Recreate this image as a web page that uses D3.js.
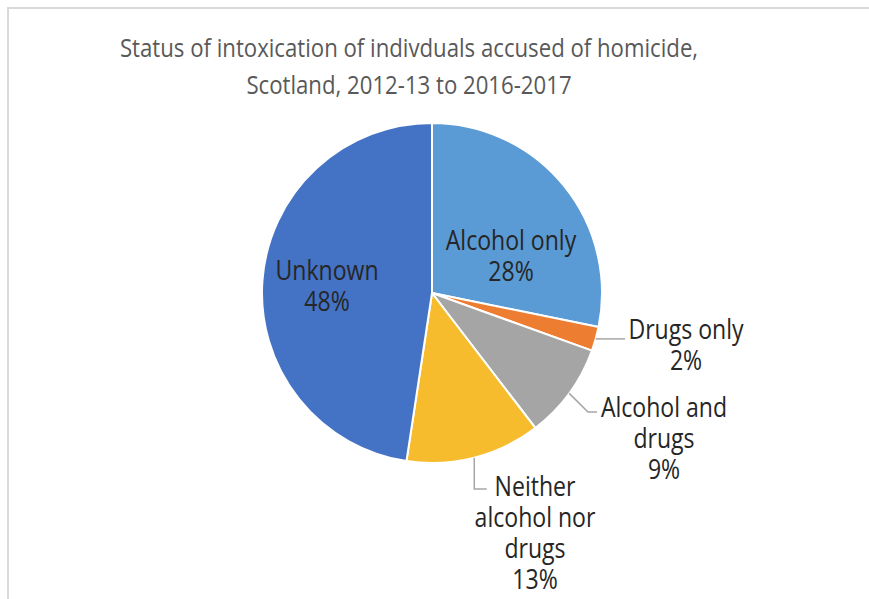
<!DOCTYPE html>
<html>
<head>
<meta charset="utf-8">
<script src="https://cdn.jsdelivr.net/npm/d3@7"></script>
<style>
  html, body { margin: 0; padding: 0; background: #fff; }
  svg { display: block; }
</style>
</head>
<body>
<svg id="chart" width="869" height="599"></svg>
<script>
// ---- data ----
const categories = ["Alcohol only", "Drugs only", "Alcohol and drugs", "Neither alcohol nor drugs", "Unknown"];
const values = [28.2, 2.3, 9.1, 12.8, 47.6];
const colors = ["#5b9bd5", "#ed7d31", "#a5a5a5", "#f6bc2d", "#4472c4"];
const labelLines = [["Alcohol only"], ["Drugs only"], ["Alcohol and", "drugs"], ["Neither", "alcohol nor", "drugs"], ["Unknown"]];
const titleLines = ["Status of intoxication of indivduals accused of homicide,", "Scotland, 2012-13 to 2016-2017"];

// ---- layout ----
const W = 869, H = 599;
const cx = 432, cy = 293, R = 170;
const FONT = "'Open Sans', 'Noto Sans', sans-serif";
// label anchor (centre of first line) relative to pie centre, and leader elbows
const labelLayout = [
  { dx: 79, dy: -52, inside: true },
  { dx: 254, dy: 37, elbow: null, end: [193, 46] },
  { dx: 232, dy: 115, elbow: [156, 119], end: [165, 119] },
  { dx: 103, dy: 194, elbow: [44.7, 196], end: [54.7, 196], vertical: true },
  { dx: -105, dy: -22, inside: true }
];

const svg = d3.select("#chart");
svg.append("rect").attr("width", W).attr("height", H).attr("fill", "#fff");
// chart border (top and left visible)
svg.append("path")
  .attr("d", `M8,${H} L8,8 L${W},8`)
  .attr("fill", "none").attr("stroke", "#d9d9d9").attr("stroke-width", 2);

// title (one text element, two lines)
const title = svg.append("text")
  .attr("transform", `translate(409, 48) scale(0.87,1)`)
  .attr("text-anchor", "middle")
  .attr("font-family", FONT).attr("font-size", 25.5).attr("fill", "#595959");
titleLines.forEach((t, i) => {
  title.append("tspan").attr("x", 0).attr("y", i * 37).attr("dy", "0.35em").text(t);
});

const total = d3.sum(values);
const pie = d3.pie().sort(null).value(d => d).startAngle(0).endAngle(2 * Math.PI);
const arcs = pie(values);
const arc = d3.arc().innerRadius(0).outerRadius(R);
const edgeArc = d3.arc().innerRadius(R).outerRadius(R);

const g = svg.append("g").attr("transform", `translate(${cx},${cy})`);
g.selectAll("path.slice").data(arcs).join("path")
  .attr("class", "slice")
  .attr("d", arc)
  .attr("fill", (d, i) => colors[i])
  .attr("stroke", "#fff").attr("stroke-width", 2).attr("stroke-linejoin", "round");

// leader lines
arcs.forEach((d, i) => {
  const L = labelLayout[i];
  if (L.inside) return;
  const p0 = edgeArc.centroid(d);
  let pts;
  if (L.vertical) pts = [p0, [p0[0], L.elbow[1]], L.end];
  else if (L.elbow) pts = [p0, L.elbow, L.end];
  else pts = [p0, [L.end[0], p0[1]]];
  g.append("path")
    .attr("d", d3.line()(pts))
    .attr("fill", "none").attr("stroke", "#a6a6a6").attr("stroke-width", 1.5);
});

// labels (one text element per label, lines as tspans)
arcs.forEach((d, i) => {
  const L = labelLayout[i];
  const pct = Math.round(d.data / total * 100) + "%";
  const lines = labelLines[i].concat([pct]);
  const txt = g.append("text")
    .attr("transform", `translate(${L.dx}, ${L.dy}) scale(0.87,1)`)
    .attr("text-anchor", "middle")
    .attr("font-family", FONT).attr("font-size", 26.5).attr("fill", "#262626");
  lines.forEach((t, j) => {
    txt.append("tspan").attr("x", 0).attr("y", j * 31).attr("dy", "0.35em").text(t);
  });
});
</script>
</body>
</html>
